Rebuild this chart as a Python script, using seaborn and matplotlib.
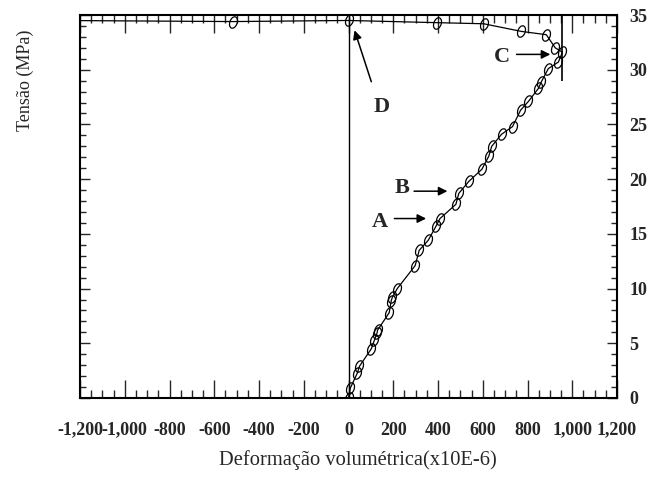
import numpy as np
import pandas as pd
import matplotlib
matplotlib.use("Agg")
import matplotlib.pyplot as plt
import seaborn as sns
from matplotlib.path import Path
from matplotlib.transforms import Affine2D
from matplotlib.ticker import MultipleLocator, FuncFormatter

# ---- data ----
strain = [0, 8, 40, 49, 102, 116, 127, 130, 182, 191, 196, 218, 298, 316, 356,
          391, 409, 480, 493, 538, 596, 627, 640, 684, 733, 769, 804, 849, 862,
          893, 938, 956,
          924, 884, 773, 604, 396, 0, -516, -1300]
stress = [0.0, 0.9, 2.3, 2.9, 4.5, 5.3, 5.9, 6.2, 7.8, 8.9, 9.2, 10.0, 12.1, 13.5, 14.4,
          15.7, 16.4, 17.7, 18.7, 19.8, 20.9, 22.1, 23.0, 24.1, 24.8, 26.3, 27.1, 28.3, 28.9,
          30.1, 30.7, 31.6,
          32.0, 33.2, 33.5, 34.2, 34.3, 34.5, 34.4, 34.5]
zero_line_x = 0
peak_line_x = 956
peak_line_y = [29.0, 35.0]

x_ticks = [-1200, -1000, -800, -600, -400, -200, 0, 200, 400, 600, 800, 1000, 1200]
y_ticks = [0, 5, 10, 15, 20, 25, 30, 35]

labels = ["A", "B", "C", "D"]
label_xy = [(140, 16.1), (238, 19.2), (686, 31.2), (150, 26.6)]
arrow_from = [(205, 16.4), (293, 18.9), (751, 31.4), (102, 28.9)]
arrow_to = [(347, 16.4), (442, 18.9), (902, 31.4), (27, 33.6)]

df = pd.DataFrame({"strain": strain, "stress": stress, "order": np.arange(len(strain))})

# ---- style ----
sns.set_style("ticks")
plt.rcParams["font.family"] = ["Liberation Serif", "DejaVu Serif"]

fig = plt.figure(figsize=(6.61, 4.80), dpi=100)
ax = fig.add_axes([80 / 661, 1 - 398 / 480, (617 - 80) / 661, (398 - 15) / 480])

ell = Path.unit_circle().transformed(Affine2D().scale(0.62, 1.0).rotate_deg(-20))

sns.lineplot(data=df, x="strain", y="stress", sort=False, estimator=None,
             color="black", linewidth=0.9, marker=ell, markersize=8.5,
             markerfacecolor="none", markeredgecolor="black", markeredgewidth=0.9,
             ax=ax)

ax.axvline(zero_line_x, color="black", linewidth=1.0)
ax.vlines(peak_line_x, peak_line_y[0], peak_line_y[1], color="black", linewidth=1.2)

ax.set_xlim(x_ticks[0], x_ticks[-1])
ax.set_ylim(y_ticks[0], y_ticks[-1])

ax.set_xticks(x_ticks)
ax.xaxis.set_minor_locator(MultipleLocator(50))
ax.set_yticks(y_ticks)
ax.yaxis.set_minor_locator(MultipleLocator(1))
ax.xaxis.set_major_formatter(FuncFormatter(lambda v, p: f"{int(round(v)):,}"))

ax.tick_params(axis="x", which="both", direction="in", top=True, bottom=True,
               labelbottom=True, labeltop=False, width=1.0, pad=17)
ax.tick_params(axis="x", which="major", length=13)
ax.tick_params(axis="x", which="minor", length=6)
ax.tick_params(axis="y", which="both", direction="in", left=True, right=True,
               labelleft=False, labelright=True, width=1.0, pad=9)
ax.tick_params(axis="y", which="major", length=7)
ax.tick_params(axis="y", which="minor", length=4)

for lab in ax.get_xticklabels():
    lab.set_fontweight("bold")
    lab.set_fontsize(13)
for lab in ax.get_yticklabels():
    lab.set_fontweight("bold")
    lab.set_fontsize(13)

for sp in ax.spines.values():
    sp.set_linewidth(1.5)
    sp.set_color("black")

ax.set_xlabel("Deformação volumétrica(x10E-6)", fontsize=14.8, labelpad=13)
ax.xaxis.set_label_coords(0.517, -0.135)
ax.set_ylabel("")
fig.text(25 / 661, 1 - 80 / 480, "Tensão (MPa)", rotation=90, fontsize=13,
         ha="center", va="center")

for lab, xy, a0, a1 in zip(labels, label_xy, arrow_from, arrow_to):
    ax.text(xy[0], xy[1], lab, fontsize=16, fontweight="bold", ha="center", va="center")
    ax.annotate("", xy=a1, xytext=a0,
                arrowprops=dict(arrowstyle="-|>", color="black", lw=1.1,
                                mutation_scale=13, shrinkA=0, shrinkB=0))

fig.savefig("out.png", dpi=100)
